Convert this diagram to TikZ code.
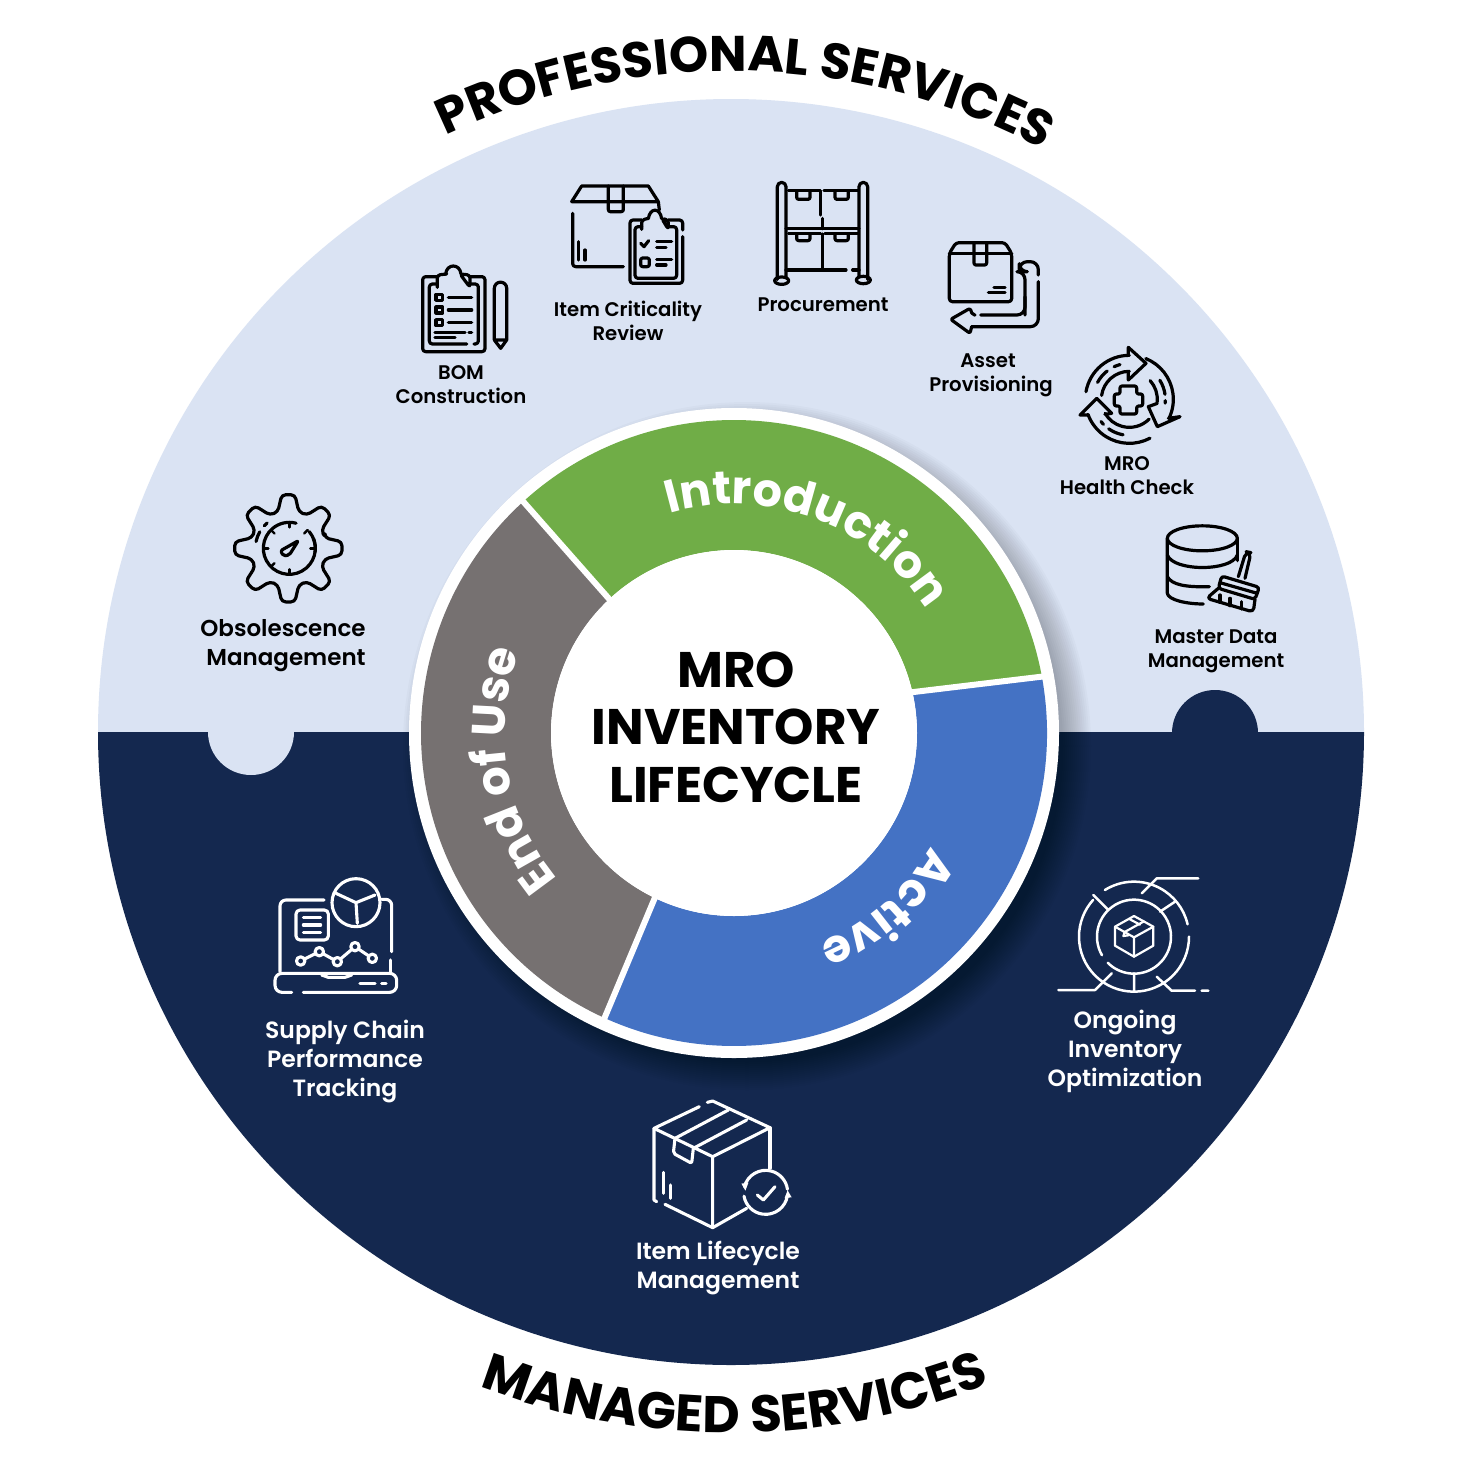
\documentclass[tikz,border=0pt]{standalone}
\usepackage{fontspec}
\usetikzlibrary{decorations.text}
\newfontfamily\popsb{Poppins SemiBold}
\newfontfamily\popb{Poppins}[UprightFont=* Bold]
\definecolor{lightbg}{HTML}{DAE3F3}
\definecolor{navy}{HTML}{14284F}
\definecolor{leaf}{HTML}{70AD47}
\definecolor{azure}{HTML}{4472C4}
\definecolor{stone}{HTML}{767171}
\tikzset{
  zm/.style 2 args={shift={(#1,#2)},x=0.33333pt,y=-0.33333pt},
  blk/.style={color=black,line width=3.2pt,line cap=round,line join=round},
  wht/.style={color=white,line width=3.1pt,line cap=round,line join=round},
  thinw/.style={color=white,line width=2.5pt,line cap=round,line join=round},
  lab/.style={font=\popsb\fontsize{19.7}{24}\selectfont,align=center,text=black,inner sep=0pt},
  labm/.style={font=\popsb\fontsize{23.5}{29}\selectfont,align=center,inner sep=0pt},
  sep/.style={draw=white,line width=6pt}
}
\newcommand\Rr[2]{([shift={(734,733)}]#1:#2pt)}
\newcommand\Oo[2]{([shift={(731,731)}]#1:#2pt)}
\begin{document}
\begin{tikzpicture}[x=1pt,y=-1pt]
\useasboundingbox (0,0) rectangle (1468,1468);
\fill[white] (0,0) rectangle (1468,1468);
% big disc
\fill[lightbg] (98,732) arc (180:0:633pt) -- cycle;
\fill[navy] (98,732) arc (180:360:633pt) -- cycle;
\fill[navy] (1215,733) circle[radius=43pt];
\fill[lightbg] (251,732) circle[radius=43pt];
% shadow
\foreach \r in {344,342,...,316}{\fill[black,opacity=0.02] (747,746) circle[radius=\r pt];}
% donut
\fill[white] (734,733) circle[radius=325pt];
\fill[leaf] \Rr{132.3}{313} arc (132.3:10.3:313pt) -- \Rr{13}{183} arc (13:133:183pt) -- cycle;
\fill[azure] \Rr{10.3}{313} arc (10.3:-114.4:313pt) -- \Rr{-115.7}{183} arc (-115.7:13:183pt) -- cycle;
\fill[stone] \Rr{245.6}{313} arc (245.6:132.3:313pt) -- \Rr{133}{183} arc (133:244.3:183pt) -- cycle;
\fill[white] (734,733) circle[radius=183pt];
\draw[sep] \Rr{132.3}{320} -- \Rr{133}{180};
\draw[sep] \Rr{10.3}{320} -- \Rr{13}{180};
\draw[sep] \Rr{245.6}{320} -- \Rr{244.3}{180};
% ring titles
\path[decorate,decoration={text along path,text align=center,text color=white,
  text={|\popb\fontsize{46}{46}\selectfont|Introduction}}] \Rr{123.5}{229} arc (123.5:15.5:229pt);
\path[decorate,decoration={text along path,text align=center,text color=white,
  text={|\popb\fontsize{46}{46}\selectfont|Active}}] \Rr{5}{227} arc (5:-103:227pt);
\path[decorate,decoration={text along path,text align=center,text color=white,
  text={|\popb\fontsize{46.5}{46.5}\selectfont|End of Use}}] \Rr{246.5}{229} arc (246.5:132.5:229pt);
% outer titles
\path[decorate,decoration={text along path,text align=center,text color=black,
  text={|\popb\fontsize{50}{50}\selectfont|PROFESSIONAL SERVICES}}] \Oo{129.5}{660} arc (129.5:47.9:660pt);
\path[decorate,decoration={text along path,text align=center,text color=black,
  text={|\popb\fontsize{51.5}{51.5}\selectfont|MANAGED SERVICES}}] \Oo{235.3}{702} arc (235.3:305.3:702pt);
% centre text
\node[font=\popb\fontsize{50}{57.5}\selectfont,align=center,inner sep=0pt] (centre) at (736,727) {MRO\\INVENTORY\\LIFECYCLE};
% labels
\node[lab] (bom) at (461,385) {BOM\\Construction};
\node[lab] (crit) at (628,321) {Item Criticality\\Review};
\node[lab] (proc) at (823,305) {Procurement};
\node[lab] (asset) at (991,375) {\hspace*{-6pt}Asset\\Provisioning};
\node[lab] (health) at (1127,476) {MRO\\Health Check};
\node[lab] (master) at (1216,651) {Master Data\\Management};
\node[font=\popsb\fontsize{23}{29}\selectfont,align=center,inner sep=0pt,text=black] (obs) at (286,646) {\hspace*{-6pt}Obsolescence\\\hspace*{0pt}Management};
\node[labm,text=white] (supply) at (345,1061) {Supply Chain\\Performance\\Tracking};
\node[labm,text=white] (ongoing) at (1125,1051) {Ongoing\\Inventory\\Optimization};
\node[labm,text=white] (life) at (718,1268) {Item Lifecycle\\Management};
% BOM + criticality + procurement icons
\begin{scope}[zm={400}{170},blk]
  \draw[rounded corners=3pt] (110,320) -- (68,320) -- (68,545) -- (255,545) -- (255,320) -- (210,320);
  \draw[rounded corners=3pt] (112,352) -- (112,315) -- (140,312) (180,312) -- (210,315) -- (210,352) -- cycle;
  \draw (137,312) .. controls (140,280) and (180,280) .. (183,312);
  \draw[rounded corners=3pt] (110,342) -- (88,342) -- (88,522) -- (200,522) (222,522) -- (235,522) -- (235,342) -- (210,342);
  \foreach \yy in {382,420,458}{\draw (108,\yy-9) rectangle (128,\yy+9); \draw (145,\yy) -- (215,\yy);}
  \draw (105,487) -- (195,487) (207,487) -- (215,487) (105,503) -- (165,503);
  \draw (283,510) -- (283,355) arc (180:0:6.2pt) -- (320,395) (320,370) -- (320,510) -- (302,535) -- (283,510) -- (320,510);
  % item criticality
  \draw (515,95) -- (545,48) -- (745,48) -- (775,95) -- (515,95);
  \draw[rounded corners=2pt] (625,48) -- (625,125) -- (670,125) -- (670,48);
  \draw (775,95) -- (778,120);
  \draw[rounded corners=3pt] (518,130) -- (518,290) -- (670,290);
  \draw (535,215) -- (535,270) (555,240) -- (555,270);
  \draw[rounded corners=3pt] (725,150) -- (690,150) -- (690,340) -- (848,340) -- (848,200) (848,180) -- (848,150) -- (805,150);
  \draw[rounded corners=3pt] (725,178) -- (725,150) -- (745,145) (785,145) -- (805,150) -- (805,178) -- cycle;
  \draw (745,146) .. controls (750,112) and (780,112) .. (785,146);
  \draw[rounded corners=3pt] (725,170) -- (705,170) -- (705,325) -- (830,325) -- (830,170) -- (805,170);
  \draw (722,220) -- (732,230) -- (746,212);
  \draw (770,215) -- (815,215) (770,232) -- (798,232) (770,268) -- (815,268) (770,285) -- (798,285);
  \draw[rounded corners=2pt] (722,264) rectangle (748,290);
  % procurement
  \draw (1132,328) -- (1132,50) arc (180:0:4.33pt) -- (1158,320);
  \draw (1377,320) -- (1377,50) arc (180:0:4.33pt) -- (1403,328);
  \draw (1145,332) ellipse[x radius=7pt,y radius=3.7pt];
  \draw (1390,330) ellipse[x radius=7pt,y radius=3.7pt];
  \draw (1158,176) -- (1377,176) (1158,300) -- (1338,300) (1358,300) -- (1377,300);
  \draw (1165,62) -- (1262,62) -- (1262,135) (1268,145) -- (1268,176) (1272,62) -- (1375,62);
  \draw[line width=2.4pt] (1268,191) -- (1268,300) (1165,191) -- (1262,191) (1274,191) -- (1375,191);
  \draw[rounded corners=2pt] (1190,65) -- (1190,88) -- (1230,88) -- (1230,65);
  \draw[rounded corners=2pt] (1305,65) -- (1305,88) -- (1345,88) -- (1345,65);
  \draw[rounded corners=2pt] (1190,192) -- (1190,212) -- (1230,212) -- (1230,192);
  \draw[rounded corners=2pt] (1305,192) -- (1305,212) -- (1345,212) -- (1345,192);
\end{scope}
% asset + health + master icons
\begin{scope}[zm={920}{230},blk]
  \draw[rounded corners=3pt] (88,70) -- (108,38) -- (255,38) -- (275,70) -- (275,215) -- (88,215) -- cycle;
  \draw (88,70) -- (275,70);
  \draw[rounded corners=2pt] (162,38) -- (162,105) -- (200,105) -- (200,38);
  \draw (205,188) -- (255,188) (222,172) -- (255,172);
  \draw[rounded corners=8pt] (315,255) -- (315,125) -- (298,125) -- (298,95) -- (355,95) -- (355,135);
  \draw[rounded corners=8pt] (355,155) -- (355,290) -- (155,290);
  \draw[rounded corners=2pt] (155,290) -- (150,310) -- (92,268) -- (150,235) -- (158,255) -- (165,255);
  \draw[rounded corners=8pt] (182,255) -- (315,255) -- (315,200);
  % health check
  \draw[rounded corners=2pt] (600,468) -- (650,468) -- (650,492) -- (668,492) -- (668,528) -- (650,528) -- (650,552) -- (600,552) -- (600,528) -- (583,528) -- (583,492) -- (600,492) -- cycle;
  \draw (625,372) -- (625,352) -- (678,400) -- (625,450) -- (625,425);
  \draw (745,565) -- (780,560) -- (712,590) -- (685,530) -- (712,520);
  \draw (505,555) -- (480,555) -- (530,505) -- (575,550) -- (555,553);
  \begin{scope}[shift={(628,508)}]
    \draw (170:44pt) arc (170:90:44pt);
    \draw (172:28pt) arc (172:90:28pt);
    \draw (68:44pt) arc (68:-25:44pt);
    \draw (42:28pt) arc (42:-5:28pt);
    \draw (-62:44pt) arc (-62:-160:44pt);
    \draw (-45:28pt) arc (-45:-150:28pt);
    \draw (152:36pt) arc (152:128:36pt) (115:36pt) arc (115:105:36pt);
    \draw (32:36pt) arc (32:8:36pt) (-2:36pt) arc (-2:-6:36pt);
    \draw (-142:36pt) arc (-142:-136:36pt) (-125:36pt) arc (-125:-100:36pt);
  \end{scope}
  % master data
  \draw (847,925) ellipse[x radius=35pt,y radius=12.5pt];
  \draw (742,925) -- (742,1090) .. controls (745,1110) and (800,1122) .. (850,1122);
  \draw (952,925) -- (952,992);
  \draw (742,975) .. controls (760,1025) and (935,1025) .. (952,975);
  \draw (742,1040) .. controls (755,1065) and (800,1072) .. (868,1070);
  \draw[rounded corners=5pt] (955,1040) -- (978,965) -- (993,968) -- (975,1045);
  \draw[rounded corners=3pt] (905,1038) -- (1018,1072) -- (1005,1108) -- (895,1075) -- cycle;
  \draw (900,1058) -- (1012,1090);
  \draw[rounded corners=4pt] (895,1075) -- (860,1105) -- (1000,1146) -- (1005,1108);
  \foreach \xa/\ya in {900/1095,930/1105,965/1115}{\draw (\xa,\ya) -- (\xa+0,\ya+22);}
\end{scope}
% gear
\begin{scope}[zm={190}{480},blk,shift={(295,205)}]
  \draw[rounded corners=4pt] (16:38pt) \foreach \a in {0,-45,-90,-135,-180,-225,-270,-315}{ -- (\a+16:38pt) -- (\a+7:54pt) -- (\a-7:54pt) -- (\a-16:38pt)} -- cycle;
  \draw (3,0) ++(40:26pt) arc (40:-285:26pt);
  \draw (3,0) ++(22:26pt) arc (22:-8:26pt);
  \foreach \a in {0,90,180,270,45,135,225}{\draw[line width=2.4pt] ([shift={(3,0)}]\a:26pt) -- ([shift={(3,0)}]\a:21pt);}
  \draw[rounded corners=2pt] (30,-23) -- (-23,7) -- (-15,23) -- (3,20) -- cycle;
  \draw (168:33pt) arc (168:150:33pt) (137:33pt) arc (137:130:33pt);
\end{scope}
% laptop
\begin{scope}[zm={250}{860},wht]
  \draw[rounded corners=6pt] (90,335) -- (90,120) -- (222,120);
  \draw[rounded corners=6pt] (395,118) -- (425,118) -- (425,275);
  \draw (422,300) -- (422,340);
  \draw[fill=navy] (318,128) circle[radius=24pt];
  \draw (318,128) -- (258,100) (318,128) -- (375,105) (318,128) -- (322,190);
  \draw[rounded corners=7pt] (125,397) -- (75,397) -- (75,340) -- (440,340) -- (440,397) -- (160,397);
  \draw (215,345) -- (235,352) -- (285,352) -- (305,345);
  \draw (330,370) -- (375,370) (395,370) -- (408,370);
  \draw[rounded corners=4pt] (138,150) rectangle (235,240);
  \draw (160,172) -- (212,172) (160,195) -- (212,195) (160,218) -- (212,218);
  \draw (152,303) -- (208,275) -- (262,305) -- (315,260) -- (367,295);
  \foreach \xx/\yy in {152/303,208/275,262/305,315/260,367/295}{\draw[fill=navy] (\xx,\yy) circle[radius=4.2pt];}
\end{scope}
% ongoing optimisation
\begin{scope}[zm={1040}{860},thinw]
  \begin{scope}[shift={(282,230)}]
    \draw (122:55pt) arc (122:13:55pt);
    \draw (0:55pt) arc (0:-222:55pt);
    \draw (210:37pt) arc (210:-135:37pt);
  \end{scope}
  \draw (305,100) -- (350,55) -- (475,55);
  \draw (160,105) -- (205,150) (405,125) -- (360,155) (282,340) -- (282,395);
  \draw (215,340) -- (165,390) -- (55,390);
  \draw (350,350) -- (395,392) -- (465,392) (485,392) -- (505,392);
  \draw[line width=2.2pt] (282,168) -- (340,200) -- (340,257) -- (282,290) -- (225,257) -- (225,200) -- cycle;
  \draw[line width=2.2pt] (225,200) -- (282,232) -- (340,200) (282,232) -- (282,290);
  \draw[line width=2.2pt] (312,184) -- (254,216) -- (250,228) -- (265,226) (268,177) -- (300,194);
\end{scope}
% item lifecycle
\begin{scope}[zm={630}{1085},wht]
  \draw (208,65) -- (72,130) -- (248,215) -- (420,128) -- (248,48) -- (232,52);
  \draw (248,215) -- (248,428) -- (105,358);
  \draw (248,428) -- (350,370);
  \draw (72,130) -- (72,345) -- (80,350);
  \draw (420,128) -- (420,250);
  \draw (135,160) -- (295,75) (190,190) -- (350,105);
  \draw[rounded corners=2pt] (135,160) -- (130,205) -- (185,235) -- (190,190);
  \draw (100,262) -- (100,325) (122,300) -- (122,340);
  \begin{scope}[shift={(407,322)}]
    \draw[fill=navy,draw=none] (0,0) circle[radius=23pt];
    \draw (165:22pt) arc (165:8:22pt);
    \draw (-8:22pt) arc (-8:-170:22pt);
    \fill (165:22pt) ++(-3pt,3pt) -- ++(7pt,1pt) -- ++(-3pt,-8pt) -- cycle;
    \fill (-5:22pt) ++(4pt,-3pt) -- ++(-7pt,-1pt) -- ++(3pt,8pt) -- cycle;
  \end{scope}
  \draw (382,330) -- (400,345) -- (435,305);
\end{scope}
\end{tikzpicture}
\end{document}
